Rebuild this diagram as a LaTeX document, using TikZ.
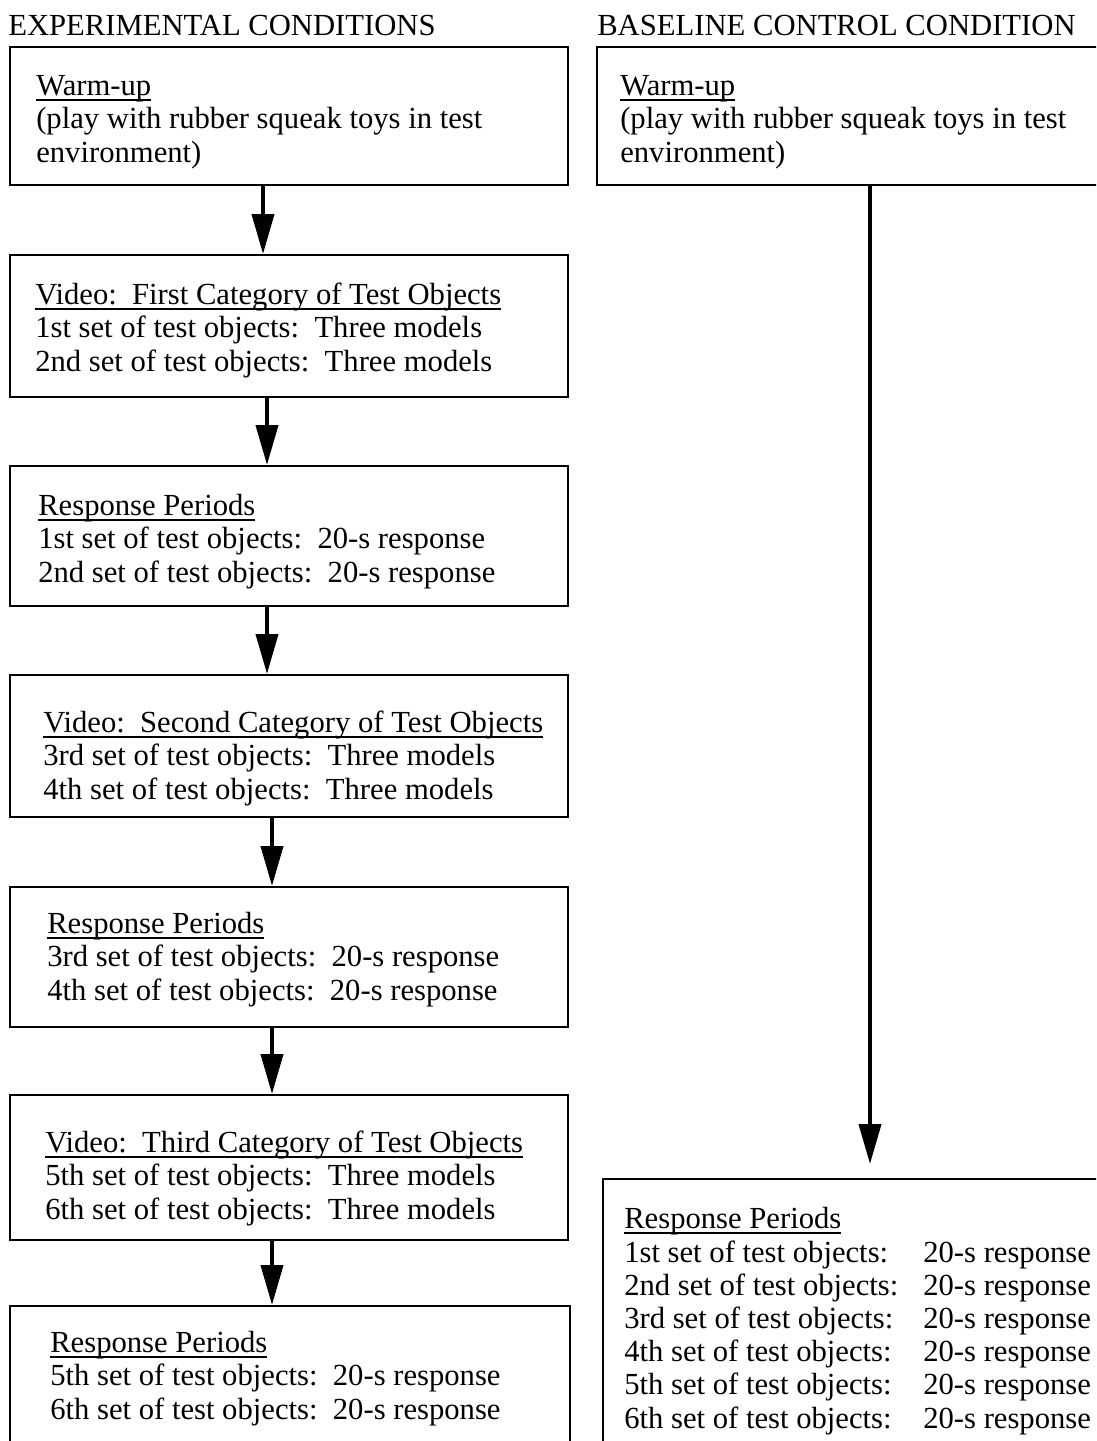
\documentclass[tikz,border=0pt]{standalone}
\usepackage{fontspec}
\setmainfont{Liberation Serif}
\usetikzlibrary{arrows.meta,fit}
\newcommand{\ulin}[1]{\setbox0=\hbox{#1}\rlap{\rule[-3.6pt]{\wd0}{1.3pt}}\box0}

\begin{document}
\begin{tikzpicture}[x=0.25mm,y=-0.25mm,
	box/.style={draw,line width=0.5mm,inner sep=0pt},
	txt/.style={align=left,inner sep=0pt,anchor=base west,font=\fontsize{21.8}{23.6}\selectfont},
	arr/.style={line width=1mm,-{Triangle[length=10mm,width=5.5mm]}}]
	\useasboundingbox (0,0) rectangle (1096,1441);
	\clip (0,0) rectangle (1096,1441);
	
	% experimental conditions (text placed by its last baseline)
	\node[txt] (titleA) at (8,35) {EXPERIMENTAL CONDITIONS};
	\node[box,fit={(10,47) (568,185)}] (warmA) {};
	\node[txt] (warmAtxt) at (36,162) {\ulin{Warm-up}\\(play with rubber squeak toys in test\\environment)};
	\node[box,fit={(10,255) (568,397)}] (vidA) {};
	\node[txt] (vidAtxt) at (35,371) {\ulin{Video:\ \ First Category of Test Objects}\\1st set of test objects:\ \ Three models\\2nd set of test objects:\ \ Three models};
	\node[box,fit={(10,466) (568,606)}] (respA) {};
	\node[txt] (respAtxt) at (38,582) {\ulin{Response Periods}\\1st set of test objects:\ \ 20-s response\\2nd set of test objects:\ \ 20-s response};
	\node[box,fit={(10,675) (568,817)}] (vidB) {};
	\node[txt] (vidBtxt) at (43,799) {\ulin{Video:\ \ Second Category of Test Objects}\\3rd set of test objects:\ \ Three models\\4th set of test objects:\ \ Three models};
	\node[box,fit={(10,887) (568,1027)}] (respB) {};
	\node[txt] (respBtxt) at (47,1000) {\ulin{Response Periods}\\3rd set of test objects:\ \ 20-s response\\4th set of test objects:\ \ 20-s response};
	\node[box,fit={(10,1095) (568,1240)}] (vidC) {};
	\node[txt] (vidCtxt) at (45,1219) {\ulin{Video:\ \ Third Category of Test Objects}\\5th set of test objects:\ \ Three models\\6th set of test objects:\ \ Three models};
	\node[box,fit={(10,1306) (570,1480)}] (respC) {};
	\node[txt] (respCtxt) at (50,1419) {\ulin{Response Periods}\\5th set of test objects:\ \ 20-s response\\6th set of test objects:\ \ 20-s response};
	
	% baseline control condition
	\node[txt] (titleB) at (597,35) {BASELINE CONTROL CONDITION};
	\node[box,fit={(597,47) (1120,185)}] (warmB) {};
	\node[txt] (warmBtxt) at (620,162) {\ulin{Warm-up}\\(play with rubber squeak toys in test\\environment)};
	\node[box,fit={(603,1179) (1120,1480)}] (respD) {};
	\node[txt] (respDtxt) at (624,1428) {\ulin{Response Periods}\\
		\makebox[74.75mm][l]{1st set of test objects:}20-s response\\
		\makebox[74.75mm][l]{2nd set of test objects:}20-s response\\
		\makebox[74.75mm][l]{3rd set of test objects:}20-s response\\
		\makebox[74.75mm][l]{4th set of test objects:}20-s response\\
		\makebox[74.75mm][l]{5th set of test objects:}20-s response\\
		\makebox[74.75mm][l]{6th set of test objects:}20-s response};
	
	\coordinate (xa) at (263,0);
	\coordinate (xb) at (267,0);
	\coordinate (xc) at (272,0);
	\coordinate (xd) at (870,0);
	\draw[arr] (xa |- warmA.south) -- (xa |- vidA.north);
	\draw[arr] (xb |- vidA.south) -- (xb |- respA.north);
	\draw[arr] (xb |- respA.south) -- (xb |- vidB.north);
	\draw[arr] (xc |- vidB.south) -- (xc |- respB.north);
	\draw[arr] (xc |- respB.south) -- (xc |- vidC.north);
	\draw[arr] (xc |- vidC.south) -- (xc |- respC.north);
	\draw[arr,shorten >=3.5mm] (xd |- warmB.south) -- (xd |- respD.north);
\end{tikzpicture}
\end{document}
